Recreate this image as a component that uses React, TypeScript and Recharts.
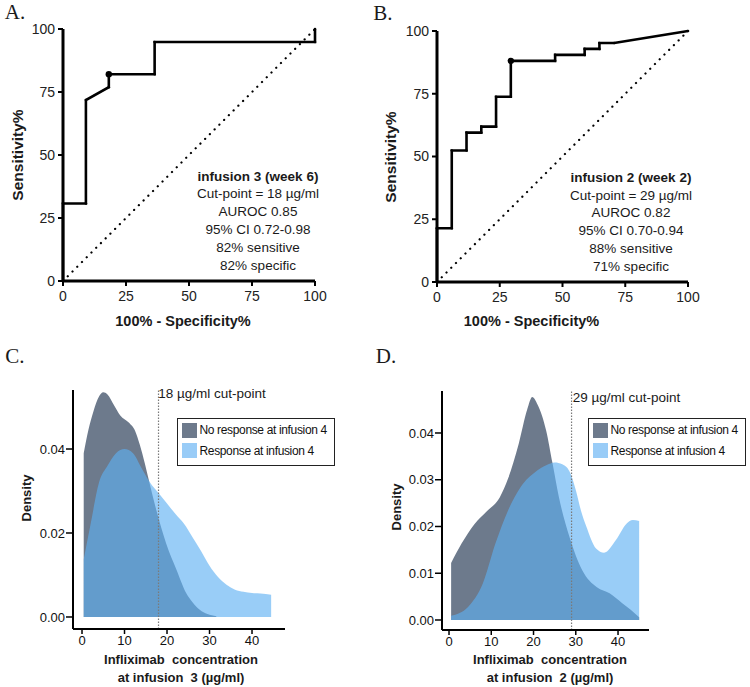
import React from 'react';
import {
  LineChart,
  Line,
  AreaChart,
  Area,
  XAxis,
  YAxis,
  ReferenceLine,
  ReferenceDot,
} from 'recharts';

const SANS = '"Liberation Sans", Arial, sans-serif';
const SERIF = '"Liberation Serif", "Times New Roman", serif';

// A. ROC at infusion 3 (week 6): 100% - specificity vs sensitivity
const rocAFpr = [0, 0, 9.09, 9.09, 18.18, 18.18, 36.36, 36.36, 100, 100];
const rocASens = [0, 30.77, 30.77, 71.79, 76.92, 82.05, 82.05, 94.87, 94.87, 100];
const rocACut = [18.18, 82.05];
const rocAText = ['infusion 3 (week 6)', 'Cut-point = 18 \u00b5g/ml', 'AUROC 0.85', '95% CI 0.72-0.98', '82% sensitive', '82% specific'];

// B. ROC at infusion 2 (week 2)
const rocBFpr = [0, 0, 5.88, 5.88, 11.76, 11.76, 17.65, 17.65, 23.53, 23.53, 29.41, 29.41, 47.06, 47.06, 58.82, 58.82, 64.71, 64.71, 70.59, 100];
const rocBSens = [0, 21.43, 21.43, 52.38, 52.38, 59.52, 59.52, 61.9, 61.9, 73.81, 73.81, 88.1, 88.1, 90.48, 90.48, 92.86, 92.86, 95.24, 95.24, 100];
const rocBCut = [29.41, 88.1];
const rocBText = ['infusion 2 (week 2)', 'Cut-point = 29 \u00b5g/ml', 'AUROC 0.82', '95% CI 0.70-0.94', '88% sensitive', '71% specific'];

const rocTicks = [0, 25, 50, 75, 100];

// C. density of infliximab at infusion 3
const cNoConc = [0.4, 1.5, 2.7, 4, 5, 6, 7.5, 9, 11, 12.5, 13.6, 14.8, 15.7, 17.5, 19.8, 22.2, 24.5, 26, 27.7, 29.5, 31.6];
const cNoDens = [0.039, 0.0445, 0.049, 0.0525, 0.0535, 0.053, 0.0505, 0.048, 0.0463, 0.0443, 0.041, 0.0365, 0.0327, 0.0254, 0.0175, 0.0113, 0.0057, 0.0035, 0.0017, 0.0007, 0.0002];
const cYesConc = [0.4, 2, 4, 6, 8, 10, 12, 14, 16, 18, 20, 22, 24, 26, 28, 30, 32, 34, 36, 38, 40, 42, 44.5];
const cYesDens = [0.0137, 0.022, 0.032, 0.036, 0.039, 0.04, 0.039, 0.0355, 0.032, 0.0295, 0.027, 0.0245, 0.0222, 0.019, 0.0157, 0.0122, 0.0095, 0.0077, 0.0065, 0.006, 0.0057, 0.0056, 0.0053];
const cCut = 18;
const cTicksY = [0, 0.02, 0.04];

// D. density of infliximab at infusion 2
const dNoConc = [0.5, 3, 6, 9, 12, 14, 16.5, 18.5, 19.7, 21, 23, 24.5, 26, 28.5, 31.5, 35, 38, 41, 43, 45];
const dNoDens = [0.0122, 0.0164, 0.0205, 0.0233, 0.0262, 0.0303, 0.0377, 0.045, 0.0477, 0.046, 0.0405, 0.0335, 0.0263, 0.0178, 0.0107, 0.007, 0.0057, 0.0036, 0.0022, 0.0006];
const dYesConc = [0.5, 4.5, 8, 11, 14, 17, 20.5, 23, 25, 26.8, 28.5, 30, 31.2, 32.5, 34.8, 36.7, 39.5, 42, 43.5, 45];
const dYesDens = [0.0009, 0.0028, 0.0078, 0.0164, 0.0235, 0.0285, 0.0317, 0.0331, 0.0337, 0.0333, 0.0318, 0.0278, 0.0235, 0.02, 0.0153, 0.0144, 0.0171, 0.0206, 0.0214, 0.0212];
const dCut = 29;
const dTicksY = [0, 0.01, 0.02, 0.03, 0.04];

const concTicks = [0, 10, 20, 30, 40];
const seriesNames = ['No response at infusion 4', 'Response at infusion 4'];

const GREY = '#6d7a8c';
const BLUE = '#5eb0f3';

const zip = (xs: number[], ys: number[]) => xs.map((x, i) => ({ x, y: ys[i] }));

function mergeDensity(noX: number[], noY: number[], yesX: number[], yesY: number[]) {
  const xs = Array.from(new Set([...noX, ...yesX])).sort((a, b) => a - b);
  return xs.map((x) => {
    const i = noX.indexOf(x);
    const j = yesX.indexOf(x);
    return { x, no: i >= 0 ? noY[i] : null, yes: j >= 0 ? yesY[j] : null };
  });
}

function Txt({ x, y, size = 13.5, bold = false, rotate = 0, font = SANS, color = '#1a1a1a', children }: any) {
  return (
    <div
      style={{
        position: 'absolute',
        left: x,
        top: y,
        transform: `translate(-50%, -50%) rotate(${rotate}deg)`,
        fontSize: size,
        fontWeight: bold ? 700 : 400,
        fontFamily: font,
        color,
        whiteSpace: 'pre',
        lineHeight: 1,
      }}
    >
      {children}
    </div>
  );
}

function RocChart({ left, width, marginTop, marginRight, yWidth, xHeight, fpr, sens, cut }: any) {
  const data = zip(fpr, sens);
  const tickStyle = { fill: '#222', fontSize: 14, fontFamily: SANS };
  return (
    <div style={{ position: 'absolute', left, top: 0 }}>
      <LineChart width={width} height={330} data={data} margin={{ top: marginTop, right: marginRight, left: 0, bottom: 0 }}>
        <XAxis
          type="number"
          dataKey="x"
          domain={[0, 100]}
          ticks={rocTicks}
          interval={0}
          height={xHeight}
          axisLine={{ stroke: '#000', strokeWidth: 3 }}
          tickLine={{ stroke: '#000', strokeWidth: 2 }}
          tickSize={5}
          tickMargin={5}
          tick={tickStyle}
        />
        <YAxis
          type="number"
          domain={[0, 100]}
          ticks={rocTicks}
          interval={0}
          width={yWidth}
          axisLine={{ stroke: '#000', strokeWidth: 3 }}
          tickLine={{ stroke: '#000', strokeWidth: 2 }}
          tickSize={5}
          tickMargin={3}
          tick={tickStyle}
        />
        <ReferenceLine
          segment={[{ x: 0, y: 0 }, { x: 100, y: 100 }]}
          stroke="#000"
          strokeWidth={2.2}
          strokeDasharray="0.1 6.6"
          strokeLinecap="round"
        />
        <Line
          type="linear"
          dataKey="y"
          stroke="#000"
          strokeWidth={2.6}
          dot={{ r: 1.3, fill: '#000', stroke: 'none' }}
          isAnimationActive={false}
        />
        <ReferenceDot x={cut[0]} y={cut[1]} r={3.2} fill="#000" stroke="none" />
      </LineChart>
    </div>
  );
}

function DensityChart({ left, width, marginTop, marginRight, yWidth, xHeight, data, xDomain, yDomain, yTicks, cut }: any) {
  const tickStyle = { fill: '#111', fontSize: 13, fontFamily: SANS };
  return (
    <div style={{ position: 'absolute', left, top: 380 }}>
      <AreaChart width={width} height={307} data={data} margin={{ top: marginTop, right: marginRight, left: 0, bottom: 0 }}>
        <XAxis
          type="number"
          dataKey="x"
          domain={xDomain}
          allowDataOverflow
          ticks={concTicks}
          interval={0}
          height={xHeight}
          axisLine={{ stroke: '#000', strokeWidth: 2 }}
          tickLine={{ stroke: '#000', strokeWidth: 1.5 }}
          tickSize={5}
          tickMargin={2}
          tick={tickStyle}
        />
        <YAxis
          type="number"
          domain={yDomain}
          allowDataOverflow
          ticks={yTicks}
          interval={0}
          width={yWidth}
          axisLine={{ stroke: '#000', strokeWidth: 2 }}
          tickLine={{ stroke: '#000', strokeWidth: 1.5 }}
          tickSize={7}
          tickMargin={1}
          tick={tickStyle}
          tickFormatter={(v: number) => v.toFixed(2)}
        />
        <Area
          type="monotone"
          dataKey="no"
          baseValue={0}
          connectNulls
          stroke="none"
          fill={GREY}
          fillOpacity={1}
          isAnimationActive={false}
        />
        <Area
          type="monotone"
          dataKey="yes"
          baseValue={0}
          connectNulls
          stroke="none"
          fill={BLUE}
          fillOpacity={0.63}
          isAnimationActive={false}
        />
        <ReferenceLine x={cut} stroke="#7a7a7a" strokeWidth={1.2} strokeDasharray="1.5 1.5" />
      </AreaChart>
    </div>
  );
}

function DensityLegend({ left, top }: any) {
  const colors = [GREY, '#99ccf7'];
  return (
    <div
      style={{
        position: 'absolute',
        left,
        top,
        width: 158,
        height: 48,
        border: '1.5px solid #222',
        boxSizing: 'border-box',
        background: '#fff',
        fontFamily: SANS,
        fontSize: 12,
        color: '#111',
      }}
    >
      {seriesNames.map((name, i) => (
        <div key={name} style={{ position: 'absolute', left: 3.5, top: 3.5 + i * 20.5, display: 'flex', alignItems: 'center' }}>
          <div style={{ width: 15, height: 15, background: colors[i] }} />
          <span style={{ marginLeft: 3, letterSpacing: -0.35, whiteSpace: 'nowrap' }}>{name}</span>
        </div>
      ))}
    </div>
  );
}

export default function App() {
  const cData = mergeDensity(cNoConc, cNoDens, cYesConc, cYesDens);
  const dData = mergeDensity(dNoConc, dNoDens, dYesConc, dYesDens);
  const lineYA = [176.7, 194.3, 212.1, 229.9, 247.7, 265.5];
  const lineYB = [177.7, 195.5, 213.3, 231.1, 248.9, 266.7];
  return (
    <div style={{ position: 'absolute', left: 0, top: 0, width: 750, height: 687, background: '#fff', overflow: 'hidden' }}>
      <RocChart left={0} width={360} marginTop={29} marginRight={45} yWidth={63} xHeight={49} fpr={rocAFpr} sens={rocASens} cut={rocACut} />
      <RocChart left={375} width={375} marginTop={31} marginRight={62} yWidth={62} xHeight={48} fpr={rocBFpr} sens={rocBSens} cut={rocBCut} />

      <DensityChart
        left={0}
        width={360}
        marginTop={10}
        marginRight={75}
        yWidth={73}
        xHeight={58}
        data={cData}
        xDomain={[-2.12, 47.76]}
        yDomain={[-0.00286, 0.05405]}
        yTicks={cTicksY}
        cut={cCut}
      />
      <DensityChart
        left={375}
        width={375}
        marginTop={11}
        marginRight={101}
        yWidth={67}
        xHeight={57}
        data={dData}
        xDomain={[-1.66, 47.33]}
        yDomain={[-0.00214, 0.04898]}
        yTicks={dTicksY}
        cut={dCut}
      />

      <Txt x={15} y={12} size={21} font={SERIF}>A.</Txt>
      <Txt x={383} y={13} size={21} font={SERIF}>B.</Txt>
      <Txt x={15} y={356} size={21} font={SERIF}>C.</Txt>
      <Txt x={386} y={356} size={21} font={SERIF}>D.</Txt>

      <Txt x={18} y={155} size={15.5} bold rotate={-90}>Sensitivity%</Txt>
      <Txt x={391} y={157} size={15.5} bold rotate={-90}>Sensitivity%</Txt>
      <Txt x={183} y={321} size={14.5} bold>100% - Specificity%</Txt>
      <Txt x={531.5} y={321} size={14.5} bold>100% - Specificity%</Txt>

      {rocAText.map((t, i) => (
        <Txt key={'a' + i} x={258} y={lineYA[i]} size={13.5} bold={i === 0}>{t}</Txt>
      ))}
      {rocBText.map((t, i) => (
        <Txt key={'b' + i} x={631} y={lineYB[i]} size={13.5} bold={i === 0}>{t}</Txt>
      ))}

      <Txt x={212} y={394} size={13.5}>{cCut + ' \u00b5g/ml cut-point'}</Txt>
      <Txt x={626.5} y={398} size={13.5}>{dCut + ' \u00b5g/ml cut-point'}</Txt>
      <DensityLegend left={177} top={418} />
      <DensityLegend left={588} top={418} />

      <Txt x={26} y={498} size={13} bold rotate={-90}>Density</Txt>
      <Txt x={396} y={507} size={13} bold rotate={-90}>Density</Txt>
      <Txt x={181} y={659} size={13} bold>{'Infliximab  concentration'}</Txt>
      <Txt x={181} y={677} size={13} bold>{'at infusion  3 (\u00b5g/ml)'}</Txt>
      <Txt x={550} y={659} size={13} bold>{'Infliximab  concentration'}</Txt>
      <Txt x={550} y={677} size={13} bold>{'at infusion  2 (\u00b5g/ml)'}</Txt>
    </div>
  );
}
